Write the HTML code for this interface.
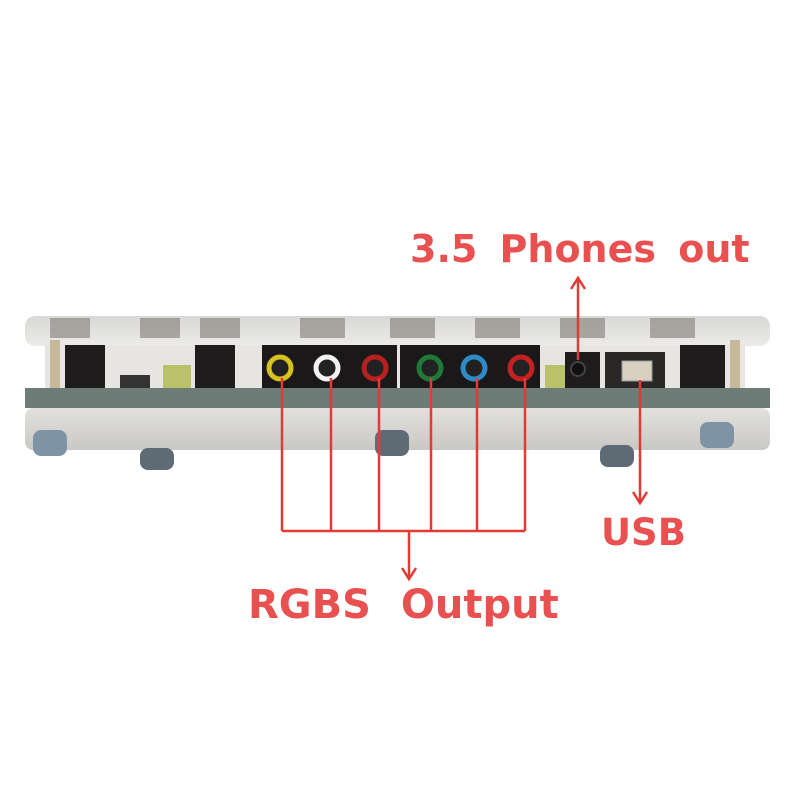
<!DOCTYPE html>
<html><head><style>
body{margin:0;background:#fff;width:800px;height:800px;overflow:hidden}
</style></head><body>
<svg width="800" height="800" viewBox="0 0 800 800" xmlns="http://www.w3.org/2000/svg">
<defs>
<linearGradient id="top" x1="0" y1="0" x2="0" y2="1"><stop offset="0" stop-color="#d8d8d6"/><stop offset="1" stop-color="#ecebe8"/></linearGradient>
<linearGradient id="bot" x1="0" y1="0" x2="0" y2="1"><stop offset="0" stop-color="#e2e1dd"/><stop offset="1" stop-color="#c9c8c4"/></linearGradient>
</defs>
<rect x="25" y="316" width="745" height="30" rx="10" fill="url(#top)"/>
<g fill="#8f8a85" opacity="0.7">
<rect x="50" y="318" width="40" height="20"/><rect x="140" y="318" width="40" height="20"/><rect x="200" y="318" width="40" height="20"/>
<rect x="300" y="318" width="45" height="20"/><rect x="390" y="318" width="45" height="20"/><rect x="475" y="318" width="45" height="20"/>
<rect x="560" y="318" width="45" height="20"/><rect x="650" y="318" width="45" height="20"/>
</g>
<rect x="45" y="345" width="700" height="45" fill="#e6e5e2"/>
<rect x="50" y="340" width="10" height="50" fill="#c8b89a"/>
<rect x="730" y="340" width="10" height="50" fill="#c8b89a"/>
<rect x="65" y="345" width="40" height="45" fill="#1e1c1c"/>
<rect x="120" y="375" width="30" height="15" fill="#333"/>
<rect x="163" y="365" width="28" height="25" fill="#b9c26a"/>
<rect x="195" y="345" width="40" height="45" fill="#1e1c1c"/>
<rect x="262" y="345" width="135" height="45" fill="#1a1818"/>
<rect x="400" y="345" width="140" height="45" fill="#1a1818"/>
<rect x="545" y="365" width="20" height="25" fill="#b9c26a"/>
<rect x="565" y="352" width="35" height="38" fill="#1e1c1c"/>
<rect x="605" y="352" width="60" height="38" fill="#2a2826"/>
<rect x="680" y="345" width="45" height="45" fill="#1e1c1c"/>
<g stroke-width="5">
<circle cx="280" cy="368" r="11" fill="#222" stroke="#d8c020"/>
<circle cx="327" cy="368" r="11" fill="#222" stroke="#f2f2f2"/>
<circle cx="375" cy="368" r="11" fill="#222" stroke="#b82020"/>
<circle cx="430" cy="368" r="11" fill="#222" stroke="#1f7a3a"/>
<circle cx="474" cy="368" r="11" fill="#222" stroke="#2f8ac8"/>
<circle cx="521" cy="368" r="11" fill="#222" stroke="#c42222"/>
</g>
<circle cx="578" cy="369" r="7" fill="#111" stroke="#444" stroke-width="2"/>
<rect x="622" y="361" width="30" height="20" fill="#d8d0c0" stroke="#999"/>
<rect x="25" y="388" width="745" height="20" fill="#6e7c78"/>
<rect x="25" y="408" width="745" height="42" rx="8" fill="url(#bot)"/>
<g fill="#5f6b74">
<rect x="33" y="430" width="34" height="26" rx="8" fill="#7f93a6"/>
<rect x="140" y="448" width="34" height="22" rx="8"/>
<rect x="375" y="430" width="34" height="26" rx="8"/>
<rect x="600" y="445" width="34" height="22" rx="8"/>
<rect x="700" y="422" width="34" height="26" rx="8" fill="#7f93a6"/>
</g>
<g stroke="#e23a36" stroke-width="2.5" fill="none">
<path d="M282 378V531M331 378V531M379 378V531M431 378V531M477 378V531M525 378V531M282 531H525"/>
<path d="M409 531V578"/>
<path d="M402 568L409 579L416 568"/>
<path d="M578 360V278"/>
<path d="M571 289L578 278L585 289"/>
<path d="M640 380V502"/>
<path d="M633 492L640 503L647 492"/>
</g>
<g font-family="'DejaVu Sans','Liberation Sans',sans-serif" font-weight="bold" fill="#e8514f">
<text x="410" y="262" font-size="38" word-spacing="9">3.5 Phones out</text>
<text x="601" y="545" font-size="37">USB</text>
<text x="248" y="618" font-size="40" word-spacing="16">RGBS Output</text>
</g>
</svg>
</body></html>
